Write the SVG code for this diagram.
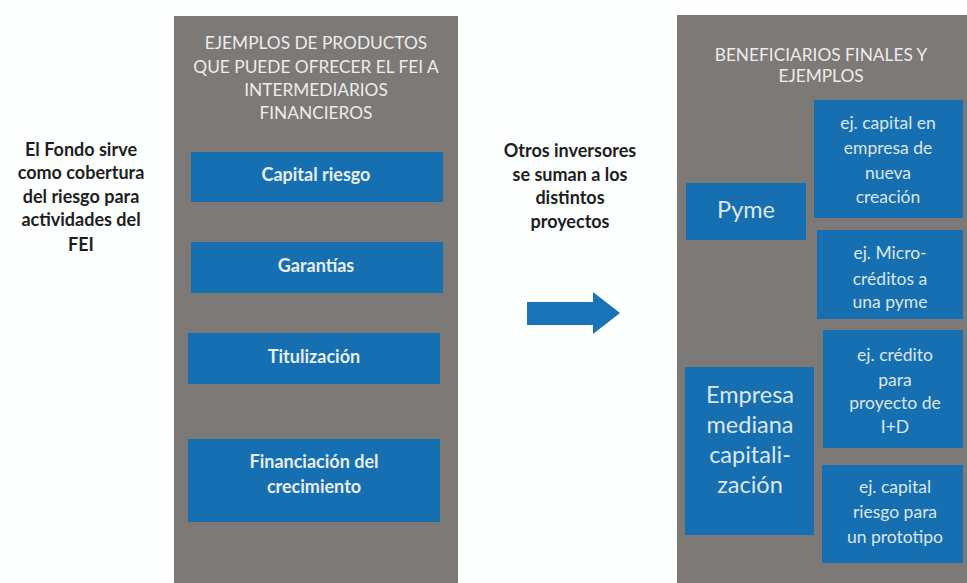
<svg xmlns="http://www.w3.org/2000/svg" width="967" height="583" viewBox="0 0 967 583">
<style>
.panel{fill:#7c7977}
.box{fill:#156fb1}
.hdr{font-family:Lato,"Open Sans",sans-serif;font-size:17.3px;fill:#ececec;text-anchor:middle}
.bt{font-family:Lato,"Open Sans",sans-serif;font-size:18px;font-weight:bold;fill:#e8eef4;text-anchor:middle}
.side{font-family:Lato,"Open Sans",sans-serif;font-size:18px;font-weight:bold;fill:#1e1e1e;text-anchor:middle}
.rt{font-family:Lato,"Open Sans",sans-serif;font-size:17.5px;fill:#dde6ee;text-anchor:middle}
.big{font-family:Lato,"Open Sans",sans-serif;font-size:23.5px;fill:#dde6ee;text-anchor:middle}
</style>
<rect width="967" height="583" fill="#fdfefe"/>
<g id="left-note">
<text class="side" x="81" y="156">El Fondo sirve</text>
<text class="side" x="81" y="179">como cobertura</text>
<text class="side" x="81" y="203">del riesgo para</text>
<text class="side" x="81" y="226">actividades del</text>
<text class="side" x="81" y="251">FEI</text>
</g>
<g id="products-panel">
<rect class="panel" x="174" y="16" width="284" height="567"/>
<text class="hdr" x="316" y="49">EJEMPLOS DE PRODUCTOS</text>
<text class="hdr" x="316" y="73">QUE PUEDE OFRECER EL FEI A</text>
<text class="hdr" x="316" y="96">INTERMEDIARIOS</text>
<text class="hdr" x="316" y="119">FINANCIEROS</text>
</g>
<g id="capital-riesgo">
<rect class="box" x="191" y="152" width="252" height="50"/>
<text class="bt" x="316" y="181">Capital riesgo</text>
</g>
<g id="garantias">
<rect class="box" x="191" y="242" width="252" height="51"/>
<text class="bt" x="316" y="272">Garantías</text>
</g>
<g id="titulizacion">
<rect class="box" x="188" y="333" width="252" height="51"/>
<text class="bt" x="314" y="363">Titulización</text>
</g>
<g id="financiacion">
<rect class="box" x="188" y="439" width="252" height="83"/>
<text class="bt" x="314" y="468">Financiación del</text>
<text class="bt" x="314" y="493">crecimiento</text>
</g>
<g id="mid-note">
<text class="side" x="570" y="157">Otros inversores</text>
<text class="side" x="570" y="181">se suman a los</text>
<text class="side" x="570" y="204">distintos</text>
<text class="side" x="570" y="228">proyectos</text>
</g>
<g id="connectors">
<polygon points="527,302 593,302 593,292 620,313 593,334 593,325 527,325" fill="#1a73b6"/>
</g>
<g id="beneficiaries-panel">
<rect class="panel" x="677" y="15" width="290" height="568"/>
<text class="hdr" x="821" y="61">BENEFICIARIOS FINALES Y</text>
<text class="hdr" x="821" y="82">EJEMPLOS</text>
</g>
<g id="pyme">
<rect class="box" x="686" y="183" width="120" height="57"/>
<text class="big" x="746" y="218">Pyme</text>
</g>
<g id="empresa-mediana">
<rect class="box" x="685" y="367" width="129" height="168"/>
<text class="big" x="750" y="403">Empresa</text>
<text class="big" x="750" y="433">mediana</text>
<text class="big" x="750" y="463">capitali-</text>
<text class="big" x="750" y="493">zación</text>
</g>
<g id="ej-capital-nueva">
<rect class="box" x="814" y="100" width="149" height="118"/>
<text class="rt" x="888" y="129">ej. capital en</text>
<text class="rt" x="888" y="154">empresa de</text>
<text class="rt" x="888" y="179">nueva</text>
<text class="rt" x="888" y="203">creación</text>
</g>
<g id="ej-microcreditos">
<rect class="box" x="817" y="230" width="146" height="89"/>
<text class="rt" x="890" y="259">ej. Micro-</text>
<text class="rt" x="890" y="285">créditos a</text>
<text class="rt" x="890" y="308">una pyme</text>
</g>
<g id="ej-credito">
<rect class="box" x="823" y="330" width="140" height="118"/>
<text class="rt" x="895" y="361">ej. crédito</text>
<text class="rt" x="895" y="386">para</text>
<text class="rt" x="895" y="409">proyecto de</text>
<text class="rt" x="895" y="433">I+D</text>
</g>
<g id="ej-capital-prototipo">
<rect class="box" x="822" y="465" width="141" height="98"/>
<text class="rt" x="895" y="493">ej. capital</text>
<text class="rt" x="895" y="518">riesgo para</text>
<text class="rt" x="895" y="543">un prototipo</text>
</g>
</svg>
